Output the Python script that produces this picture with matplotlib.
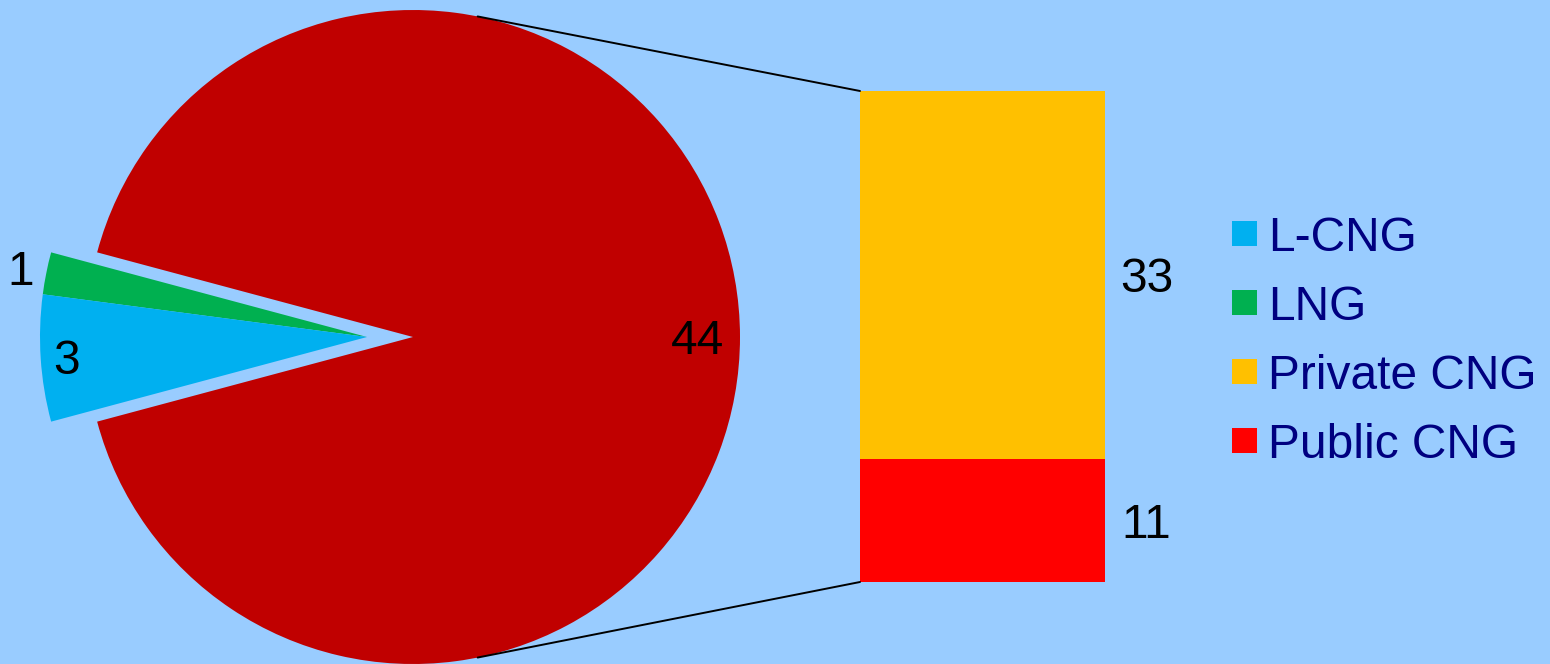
import numpy as np
import matplotlib
matplotlib.use("Agg")
import matplotlib.pyplot as plt
from matplotlib import transforms
from matplotlib.patches import ConnectionPatch, Rectangle

# ---- data ----
pie_labels = ["Other", "LNG", "L-CNG"]
pie_values = [44, 1, 3]
bar_labels = ["Public CNG", "Private CNG"]
bar_values = [11, 33]
legend_labels = ["L-CNG", "LNG", "Private CNG", "Public CNG"]

# ---- style ----
BG = "#99CCFF"
pie_colors = ["#C00000", "#00B050", "#00B0F0"]
bar_colors = ["#FF0000", "#FFC000"]
legend_colors = ["#00B0F0", "#00B050", "#FFC000", "#FF0000"]
TEXT_NAVY = "#000080"
FS = 34.5
CAP = 17  # half cap height in px
plt.rcParams["font.family"] = ["Liberation Sans", "DejaVu Sans"]

W, H = 1550, 664
fig = plt.figure(figsize=(W / 100, H / 100), dpi=100, facecolor=BG)

# pie axes in pixel-like coordinates (y up)
ax = fig.add_axes([0, 0, 1, 1])
ax.set_facecolor(BG)
cx, cy, R = 413, 327, 327
explode_px = 46
wedges, _ = ax.pie(pie_values, colors=pie_colors, startangle=195, counterclock=True,
                   center=(cx, cy), radius=R, wedgeprops=dict(linewidth=0))
for w in wedges[1:]:
    w.set_center((cx - explode_px, cy))
ax.set_xlim(0, W)
ax.set_ylim(0, H)
ax.set_aspect("auto")
ax.axis("off")

# pie labels
label_dist = [0.87, 1.08, 0.92]
off = transforms.offset_copy(ax.transData, fig=fig, y=-CAP, units="dots")
for w, v, d in zip(wedges, pie_values, label_dist):
    mid = np.deg2rad((w.theta1 + w.theta2) / 2)
    wx, wy = w.center
    ax.text(wx + d * R * np.cos(mid), wy + d * R * np.sin(mid), str(v),
            ha="center", va="baseline", fontsize=FS, color="black", transform=off)

# bar axes
ax_bar = fig.add_axes([860 / W, (H - 582) / H, 245 / W, 491 / H])
ax_bar.set_facecolor(BG)
bottom = 0
bar_mids = []
for lab, v, c in zip(bar_labels, bar_values, bar_colors):
    ax_bar.bar(0, v, width=1, bottom=bottom, color=c, linewidth=0)
    bar_mids.append(bottom + v / 2)
    bottom += v
ax_bar.set_xlim(-0.5, 0.5)
ax_bar.set_ylim(0, sum(bar_values))
ax_bar.axis("off")

bt = transforms.blended_transform_factory(ax_bar.transAxes, ax_bar.transData)
bt_off = transforms.offset_copy(bt, fig=fig, y=-CAP, units="dots")
for v, m in zip(bar_values, bar_mids):
    ax_bar.text(1.17, m, str(v), ha="center", va="baseline", fontsize=FS,
                color="black", transform=bt_off)

# connector lines
ang = np.deg2rad(78.6)
for sgn, yb in [(1, sum(bar_values)), (-1, 0)]:
    p = (cx + R * np.cos(ang), cy + sgn * R * np.sin(ang))
    con = ConnectionPatch(xyA=p, coordsA=ax.transData, xyB=(-0.5, yb), coordsB=ax_bar.transData,
                          color="black", lw=1.4)
    fig.add_artist(con)

# legend (manual)
base_y = H - 251
for i, (lab, c) in enumerate(zip(legend_labels, legend_colors)):
    yb = base_y - i * 69
    ax.add_patch(Rectangle((1232, yb + 5), 25, 25, facecolor=c, linewidth=0))
    ax.text(1268, yb, lab, ha="left", va="baseline", fontsize=FS, color=TEXT_NAVY)

fig.savefig("out.png", dpi=100, facecolor=BG)
